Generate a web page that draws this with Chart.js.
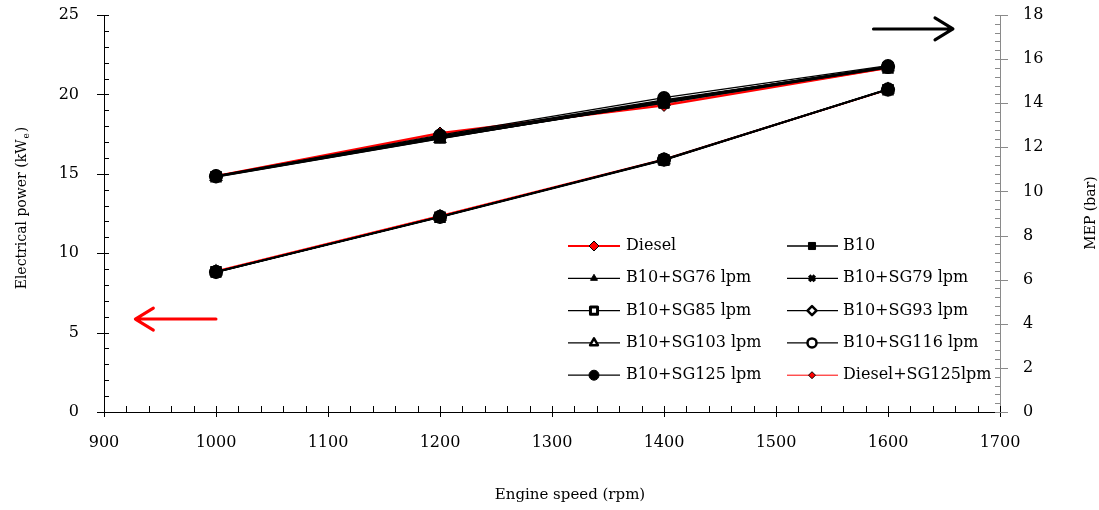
<!DOCTYPE html>
<html>
<head>
<meta charset="utf-8">
<script src="https://cdn.jsdelivr.net/npm/chart.js@4.4.0/dist/chart.umd.min.js"></script>
<style>
  html, body { margin: 0; padding: 0; background: #fff; }
  #wrap { width: 1099px; height: 510px; }
</style>
</head>
<body>
<div id="wrap"><canvas id="chart" width="1099" height="510"></canvas></div>
<script>
// engine test points
const speeds = [1000, 1200, 1400, 1600];

const fuels = [
  "Diesel", "B10",
  "B10+SG76 lpm", "B10+SG79 lpm",
  "B10+SG85 lpm", "B10+SG93 lpm",
  "B10+SG103 lpm", "B10+SG116 lpm",
  "B10+SG125 lpm", "Diesel+SG125lpm"
];

// electrical power, kWe (left axis), one row per fuel
const powerKWe = [
  [8.86, 12.35, 15.90, 20.30],
  [8.80, 12.25, 15.85, 20.30],
  [8.82, 12.28, 15.88, 20.32],
  [8.80, 12.30, 15.90, 20.35],
  [8.83, 12.27, 15.87, 20.30],
  [8.81, 12.29, 15.90, 20.33],
  [8.84, 12.30, 15.86, 20.31],
  [8.82, 12.28, 15.92, 20.34],
  [8.83, 12.30, 15.89, 20.30],
  [8.86, 12.33, 15.91, 20.32]
];

// mean effective pressure, bar (right axis)
const mepBar = [
  [10.70, 12.65, 13.90, 15.60],
  [10.68, 12.45, 14.00, 15.65],
  [10.66, 12.40, 14.05, 15.62],
  [10.70, 12.48, 14.10, 15.68],
  [10.67, 12.42, 14.02, 15.60],
  [10.69, 12.50, 14.12, 15.66],
  [10.65, 12.38, 14.08, 15.63],
  [10.71, 12.55, 14.25, 15.70],
  [10.68, 12.52, 14.15, 15.64],
  [10.72, 12.60, 13.95, 15.58]
];

// axis ranges and labelled ticks
const xTicks = [900, 1000, 1100, 1200, 1300, 1400, 1500, 1600, 1700];
const powerTicks = [0, 5, 10, 15, 20, 25];
const mepTicks = [0, 2, 4, 6, 8, 10, 12, 14, 16, 18];

// line / marker look per fuel (lower order is drawn on top)
const looks = [
  { line: "#ff0000", lw: 2,   shape: "rectRot",  fill: "#ff0000", edge: "#000", r: 6,   bw: 1,   order: 20 },
  { line: "#000",    lw: 1.3, shape: "rect",     fill: "#000",    edge: "#000", r: 7,   bw: 1,   order: 1 },
  { line: "#000",    lw: 1.3, shape: "triangle", fill: "#000",    edge: "#000", r: 5,   bw: 1,   order: 4 },
  { line: "#000",    lw: 1.3, shape: "crossRot", fill: "#000",    edge: "#000", r: 5,   bw: 3.5, order: 3 },
  { line: "#000",    lw: 1.3, shape: "rect",     fill: "#fff",    edge: "#000", r: 6,   bw: 3,   order: 5 },
  { line: "#000",    lw: 1.3, shape: "rectRot",  fill: "#fff",    edge: "#000", r: 5.5, bw: 2.5, order: 6 },
  { line: "#000",    lw: 1.3, shape: "triangle", fill: "#fff",    edge: "#000", r: 5.5, bw: 2.5, order: 7 },
  { line: "#000",    lw: 1.3, shape: "circle",   fill: "#fff",    edge: "#000", r: 5.5, bw: 2.5, order: 10 },
  { line: "#000",    lw: 1.3, shape: "circle",   fill: "#000",    edge: "#000", r: 6.5, bw: 1,   order: 2 },
  { line: "#ff0000", lw: 1,   shape: "rectRot",  fill: "#ff0000", edge: "#000", r: 4,   bw: 1,   order: 19 }
];

const serif = '"DejaVu Serif", "Liberation Serif", serif';

function makeSet(i, values, axis) {
  const lk = looks[i];
  return {
    label: fuels[i],
    yAxisID: axis,
    data: speeds.map((s, j) => ({ x: s, y: values[i][j] })),
    borderColor: lk.line,
    borderWidth: lk.lw,
    pointStyle: lk.shape,
    pointRadius: lk.r,
    pointBackgroundColor: lk.fill,
    pointBorderColor: lk.edge,
    pointBorderWidth: lk.bw,
    order: lk.order,
    tension: 0,
    fill: false
  };
}

const datasets = [];
fuels.forEach((f, i) => {
  datasets.push(makeSet(i, powerKWe, "y"));
  datasets.push(makeSet(i, mepBar, "y1"));
});

// tick marks and labels, axis titles, direction arrows and the legend box
const decorations = {
  id: "decorations",
  afterDraw(chart) {
    const ctx = chart.ctx;
    const xs = chart.scales.x, yl = chart.scales.y, yr = chart.scales.y1;

    ctx.save();
    ctx.lineWidth = 1;

    // x axis: major every 100 crossing the line, minor every 20 inside
    ctx.strokeStyle = "#000";
    ctx.beginPath();
    for (let k = 0; k <= 40; k++) {
      const v = 900 + k * 20;
      const px = Math.round(xs.getPixelForValue(v)) + 0.5;
      const major = k % 5 === 0;
      ctx.moveTo(px, xs.top - 6);
      ctx.lineTo(px, xs.top + (major ? 5 : 0));
    }
    // left axis: major every 5, minor every 1
    for (let k = 0; k <= 25; k++) {
      const py = Math.round(yl.getPixelForValue(k)) + 0.5;
      const major = k % 5 === 0;
      ctx.moveTo(yl.right + 5, py);
      ctx.lineTo(yl.right - (major ? 7 : 0), py);
    }
    ctx.stroke();

    // right axis in grey: major every 2, minor every 0.4
    ctx.strokeStyle = "#8a8a8a";
    ctx.beginPath();
    for (let k = 0; k <= 45; k++) {
      const py = Math.round(yr.getPixelForValue(k * 0.4)) + 0.5;
      const major = k % 5 === 0;
      ctx.moveTo(yr.left - 5, py);
      ctx.lineTo(yr.left + (major ? 8 : 0), py);
    }
    ctx.stroke();

    // tick labels
    ctx.fillStyle = "#000";
    ctx.font = "16px " + serif;
    ctx.textBaseline = "middle";
    ctx.textAlign = "center";
    xTicks.forEach(v => ctx.fillText(String(v), xs.getPixelForValue(v), 443));
    ctx.textAlign = "right";
    powerTicks.forEach(v => ctx.fillText(String(v), 79, yl.getPixelForValue(v)));
    ctx.textAlign = "left";
    mepTicks.forEach(v => ctx.fillText(String(v), 1023, yr.getPixelForValue(v)));

    // axis titles
    ctx.font = "15px " + serif;
    ctx.textAlign = "center";
    ctx.fillText("Engine speed (rpm)", 570, 495);

    ctx.save();
    ctx.translate(22, 208);
    ctx.rotate(-Math.PI / 2);
    ctx.textAlign = "left";
    const t1 = "Electrical power (kW", t2 = "e", t3 = ")";
    ctx.font = "14px " + serif;
    const w1 = ctx.measureText(t1).width, w3 = ctx.measureText(t3).width;
    ctx.font = "9px " + serif;
    const w2 = ctx.measureText(t2).width;
    const sx = -(w1 + w2 + w3 + 2) / 2;
    ctx.font = "14px " + serif;
    ctx.fillText(t1, sx, 0);
    ctx.font = "9px " + serif;
    ctx.fillText(t2, sx + w1 + 1, 5);
    ctx.font = "14px " + serif;
    ctx.fillText(t3, sx + w1 + w2 + 2, 0);
    ctx.restore();

    ctx.save();
    ctx.translate(1091, 213);
    ctx.rotate(-Math.PI / 2);
    ctx.textAlign = "center";
    ctx.font = "14px " + serif;
    ctx.fillText("MEP (bar)", 0, 0);
    ctx.restore();

    // arrows pointing to the axis each group belongs to
    const arrow = (x0, x1, y, color) => {
      const dir = Math.sign(x1 - x0);
      ctx.strokeStyle = color;
      ctx.lineWidth = 3;
      ctx.lineCap = "round";
      ctx.lineJoin = "round";
      ctx.beginPath();
      ctx.moveTo(x0, y);
      ctx.lineTo(x1, y);
      ctx.moveTo(x1 - dir * 18, y - 11);
      ctx.lineTo(x1, y);
      ctx.lineTo(x1 - dir * 18, y + 11);
      ctx.stroke();
    };
    arrow(xs.getPixelForValue(1000), xs.getPixelForValue(928), yl.getPixelForValue(5.85), "#ff0000");
    arrow(xs.getPixelForValue(1587), xs.getPixelForValue(1658), yr.getPixelForValue(17.37), "#000");

    // legend, two columns of five
    const cols = [{ a: 568, b: 620, m: 594, t: 626 }, { a: 787, b: 838, m: 812, t: 843 }];
    ctx.font = "16px " + serif;
    ctx.textAlign = "left";
    ctx.textBaseline = "middle";
    fuels.forEach((name, i) => {
      const lk = looks[i];
      const c = cols[i % 2];
      const y = 246 + Math.floor(i / 2) * 32.3;
      ctx.strokeStyle = lk.line;
      ctx.lineWidth = lk.lw;
      ctx.lineCap = "butt";
      ctx.beginPath();
      ctx.moveTo(c.a, y);
      ctx.lineTo(c.b, y);
      ctx.stroke();
      ctx.fillStyle = lk.fill;
      ctx.strokeStyle = lk.edge;
      ctx.lineWidth = lk.bw;
      Chart.helpers.drawPoint(ctx, {
        pointStyle: lk.shape,
        radius: Math.max(3.5, Math.min(lk.r, 6) - 1),
        rotation: 0,
        borderWidth: lk.bw
      }, c.m, y);
      ctx.fillStyle = "#000";
      ctx.fillText(name, c.t, y);
    });

    ctx.restore();
  }
};

const hiddenTicks = { display: false };
const noGrid = { display: false, drawTicks: false };

new Chart(document.getElementById("chart"), {
  type: "line",
  data: { datasets: datasets },
  options: {
    responsive: false,
    animation: false,
    devicePixelRatio: 1,
    layout: { padding: { top: 15, left: 0, right: 0, bottom: 0 } },
    plugins: {
      legend: { display: false },
      tooltip: { enabled: false }
    },
    scales: {
      x: {
        type: "linear",
        min: 900,
        max: 1700,
        ticks: hiddenTicks,
        grid: noGrid,
        border: { display: true, color: "#000", width: 1 },
        afterFit(s) { s.height = 98; s.paddingLeft = 0; s.paddingRight = 0; }
      },
      y: {
        position: "left",
        min: 0,
        max: 25,
        ticks: hiddenTicks,
        grid: noGrid,
        border: { display: true, color: "#000", width: 1 },
        afterFit(s) { s.width = 104; s.paddingTop = 0; s.paddingBottom = 0; }
      },
      y1: {
        position: "right",
        min: 0,
        max: 18,
        ticks: hiddenTicks,
        grid: noGrid,
        border: { display: true, color: "#8a8a8a", width: 1 },
        afterFit(s) { s.width = 99; s.paddingTop = 0; s.paddingBottom = 0; }
      }
    }
  },
  plugins: [decorations]
});
</script>
</body>
</html>
